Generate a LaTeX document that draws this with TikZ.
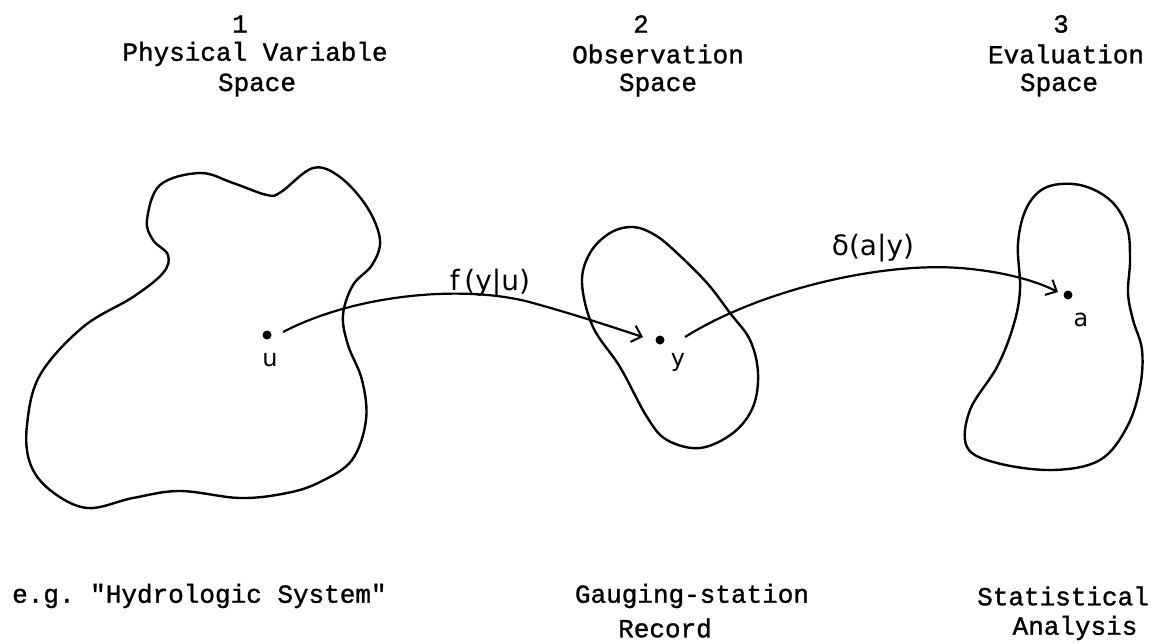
\documentclass[tikz,border=0pt]{standalone}
\usepackage{fontspec}
\setmonofont[FakeBold=1.2]{Liberation Mono}
\newfontfamily\hand{DejaVu Sans}
\usetikzlibrary{arrows.meta}
\begin{document}
\begin{tikzpicture}[x=1pt,y=-1pt,
  blob/.style={line width=2.4pt, line join=round},
  dot/.style={circle, fill, inner sep=0pt, minimum size=9pt},
  conn/.style={line width=2.2pt, -{Straight Barb[length=9pt,width=17pt,line width=2pt]}},
  tw/.style={font=\fontsize{26}{31}\selectfont\ttfamily, inner sep=0pt},
  hw/.style={font=\fontsize{28}{30}\selectfont\hand, inner sep=0pt},
  ptlab/.style={font=\fontsize{24}{28}\selectfont\hand, inner sep=0pt}]
\useasboundingbox (0,0) rectangle (1169,643);

% column headings
\node[tw] (n1) at (240,24) {1};
\node[tw] (h1) at (255,54) {Physical Variable};
\node[tw] (s1) at (257,85) {Space};
\node[tw] (n2) at (641,24) {2};
\node[tw] (h2) at (658,54) {Observation};
\node[tw] (s2) at (658,85) {Space};
\node[tw] (n3) at (1061,24) {3};
\node[tw] (h3) at (1066,54) {Evaluation};
\node[tw] (s3) at (1059,85) {Space};

% captions
\node[tw, anchor=west] (c1) at (12,596) {e.g. "Hydrologic System"};
\node[tw] (c2) at (692,596) {Gauging-station};
\node[tw] (c2b) at (665,628) {Record};
\node[tw] (c3) at (1063,596) {Statistical};
\node[tw] (c3b) at (1075,628) {Analysis};

% physical variable space
\draw[blob] plot[smooth cycle, tension=0.6] coordinates {
  (147,220) (160,185) (200,173) (233,183) (267,195) (281,192) (313,168)
  (340,177) (367,207) (380,240) (372,265) (353,285) (343,315) (348,345)
  (362,380) (366,420) (352,460) (320,482) (287,493) (240,498) (180,491)
  (133,498) (87,508) (50,490) (30,463) (27,425) (40,375) (83,327)
  (133,297) (163,273) (168,255) (153,240)};

% observation space
\draw[blob] plot[smooth cycle, tension=0.6] coordinates {
  (633,227) (655,235) (677,253) (707,283) (730,313) (750,340) (758,373)
  (753,407) (733,433) (700,448) (667,440) (647,417) (620,367) (593,327)
  (582,283) (590,253) (610,233)};

% evaluation space
\draw[blob] plot[smooth cycle, tension=0.6] coordinates {
  (1047,187) (1080,185) (1110,200) (1127,227) (1130,260) (1128,293)
  (1133,320) (1142,350) (1140,387) (1127,427) (1100,460) (1053,470)
  (997,463) (967,447) (970,410) (997,367) (1013,327) (1020,290)
  (1018,243) (1027,207)};

% points
\node[dot] (u) at (267,335) {};
\node[dot] (y) at (660,340) {};
\node[dot] (a) at (1068,295) {};
\node[ptlab] (lu) at (270,360) {u};
\node[ptlab] (ly) at (678,362) {y};
\node[ptlab] (la) at (1081,320) {a};

% mappings
\draw[conn] ([shift={(16,-3)}]u.center)
  .. controls (360,292) and (470,285) .. (533,303)
  .. controls (580,316) and (615,328) .. ([shift={(-17,-3)}]y.center);
\draw[conn] ([shift={(25,-3)}]y.center)
  .. controls (760,290) and (880,262) .. (960,268)
  .. controls (1010,272) and (1040,283) .. ([shift={(-10,-3)}]a.center);

\node[hw] (f) at (490,283) {f\,(y|u)};
\node[hw] (d) at (873,248) {δ(a|y)};
\end{tikzpicture}
\end{document}
